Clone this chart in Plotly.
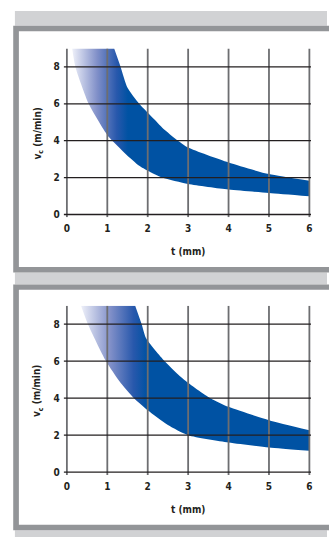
import plotly.graph_objects as go

# ---- data ----
x_ticks = [0, 1, 2, 3, 4, 5, 6]
y_ticks = [0, 2, 4, 6, 8]

# panel 1 band
p1_upper_t = [1.17, 1.33, 1.50, 1.79, 2.16, 2.36, 2.75, 3.0, 4.0, 5.0, 6.0]
p1_upper_v = [9.0, 8.0, 6.87, 6.0, 5.16, 4.71, 4.0, 3.63, 2.82, 2.19, 1.83]
p1_lower_t = [0.13, 0.21, 0.54, 0.88, 1.05, 1.46, 1.79, 2.0, 2.36, 3.0, 4.0, 5.0, 6.0]
p1_lower_v = [9.0, 8.0, 6.0, 4.71, 4.17, 3.27, 2.64, 2.37, 2.0, 1.65, 1.35, 1.17, 0.99]

# panel 2 band
p2_upper_t = [1.69, 1.85, 1.96, 2.42, 2.9, 3.55, 4.0, 5.0, 6.0]
p2_upper_v = [9.0, 8.0, 7.24, 6.0, 5.0, 4.0, 3.53, 2.81, 2.27]
p2_lower_t = [0.35, 0.52, 0.97, 1.30, 1.66, 2.0, 2.5, 3.0, 4.0, 5.0, 6.0]
p2_lower_v = [9.0, 8.0, 6.0, 4.92, 4.0, 3.35, 2.55, 2.0, 1.61, 1.34, 1.16]

x_title = "t (mm)"
y_title = "v<sub>c</sub> (m/min)"

W, H = 329, 540
BLUE = "rgb(0,82,163)"
DARK = "#231f20"
FONT = "DejaVu Sans Condensed, Liberation Sans Narrow, Open Sans, sans-serif"

fig = go.Figure()

def px(x):
    return x / W

def py(y):
    return 1 - y / H

def band(upper_t, upper_v, lower_t, lower_v, g0, g1, xa, ya):
    fig.add_trace(go.Scatter(x=lower_t, y=lower_v, mode="lines",
                             line=dict(width=0, shape="spline", smoothing=0.6),
                             xaxis=xa, yaxis=ya, showlegend=False, hoverinfo="skip"))
    fig.add_trace(go.Scatter(x=upper_t, y=upper_v, mode="lines", fill="tonexty",
                             line=dict(width=0, shape="spline", smoothing=0.6),
                             fillgradient=dict(type="horizontal", start=g0, stop=g1,
                                               colorscale=[[0, "rgb(238,240,249)"],
                                                           [0.45, "rgb(128,143,200)"],
                                                           [0.8, "rgb(40,88,172)"],
                                                           [1, BLUE]]),
                             xaxis=xa, yaxis=ya, showlegend=False, hoverinfo="skip"))

band(p1_upper_t, p1_upper_v, p1_lower_t, p1_lower_v, 0.13, 1.5, "x", "y")
band(p2_upper_t, p2_upper_v, p2_lower_t, p2_lower_v, 0.35, 1.96, "x2", "y2")

XR = [-0.08, 6.04]
YR = [-0.15, 9]
xdom = [px(64.05), px(312.9)]

tickfont = dict(family=FONT, size=10, color=DARK, weight="bold")
xaxis_common = dict(showgrid=False, zeroline=False, showline=False, ticks="",
                    tickfont=tickfont, ticklabelstandoff=4, fixedrange=True)
yaxis_common = dict(showgrid=False, zeroline=False, showline=False, ticks="",
                    tickfont=tickfont, ticklabelstandoff=3, fixedrange=True)

fig.update_layout(
    xaxis=dict(domain=xdom, range=XR, tickvals=x_ticks, anchor="y", **xaxis_common),
    yaxis=dict(domain=[py(218.5), py(48.75)], range=YR, tickvals=y_ticks, anchor="x", **yaxis_common),
    xaxis2=dict(domain=xdom, range=XR, tickvals=x_ticks, anchor="y2", **xaxis_common),
    yaxis2=dict(domain=[py(477.6), py(307.4)], range=YR, tickvals=y_ticks, anchor="x2", **yaxis_common),
)

shapes = []
# background frames
LG = "#d1d2d4"
DG = "#939598"
for (band_top, band_bot) in [(11, 26), (274, 286), (533.3, 540)]:
    shapes.append(dict(type="rect", xref="paper", yref="paper", x0=px(15), x1=1,
                       y0=py(band_bot), y1=py(band_top), fillcolor=LG, line_width=0, layer="below"))
for (top, bot) in [(26, 274), (286, 533.3)]:
    shapes.append(dict(type="rect", xref="paper", yref="paper", x0=px(13.3), x1=1.01,
                       y0=py(bot), y1=py(top), fillcolor=DG, line_width=0, layer="below"))
    shapes.append(dict(type="rect", xref="paper", yref="paper", x0=px(19), x1=1.01,
                       y0=py(bot - 5.5), y1=py(top + 5.3), fillcolor="white", line_width=0, layer="below"))

# grid lines drawn above the band
for xa, ya in [("x", "y"), ("x2", "y2")]:
    for t in x_ticks:
        shapes.append(dict(type="line", xref=xa, yref=ya, x0=t, x1=t, y0=YR[0], y1=YR[1],
                           line=dict(color="#6d6e71", width=1.8), layer="above"))
    for v in y_ticks:
        shapes.append(dict(type="line", xref=xa, yref=ya, x0=XR[0], x1=XR[1], y0=v, y1=v,
                           line=dict(color=DARK, width=1.3), layer="above"))

annotations = []
for xt_y, yt_y in [(253, 134), (512.7, 393)]:
    annotations.append(dict(xref="paper", yref="paper", x=px(189.3), y=py(xt_y), text=x_title,
                            showarrow=False, xanchor="center", yanchor="middle",
                            font=dict(family=FONT, size=10, color=DARK, weight="bold")))
    annotations.append(dict(xref="paper", yref="paper", x=px(38.5), y=py(yt_y), text=y_title,
                            showarrow=False, xanchor="center", yanchor="middle", textangle=-90,
                            font=dict(family=FONT, size=10, color=DARK, weight="bold")))

fig.update_layout(width=W, height=H, margin=dict(l=0, r=0, t=0, b=0),
                  paper_bgcolor="white", plot_bgcolor="rgba(0,0,0,0)",
                  shapes=shapes, annotations=annotations, showlegend=False)

fig.write_html("out.html", config={"displayModeBar": False},
               post_script="document.body.style.margin='0';")
